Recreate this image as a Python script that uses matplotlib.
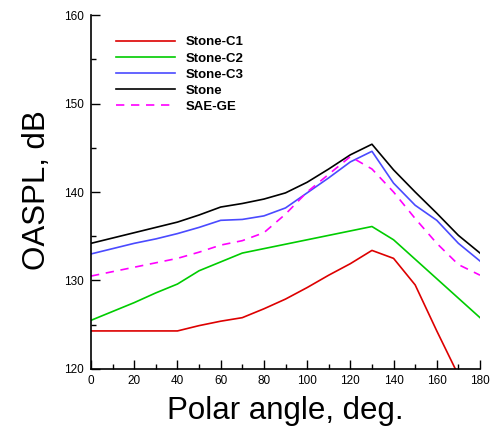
import numpy as np
import matplotlib
matplotlib.use('Agg')
import matplotlib.pyplot as plt
from matplotlib.ticker import MultipleLocator

plt.rcParams['font.family'] = ['Liberation Sans', 'DejaVu Sans']

# 각도 (deg)
angle = [0, 10, 20, 30, 40, 50, 60, 70, 80, 90, 100, 110, 120, 130, 140, 150, 160, 170, 180]

stone_c1 = [124.3, 124.3, 124.3, 124.3, 124.3, 124.9, 125.4, 125.8, 126.8, 127.9, 129.2, 130.6,
            131.9, 133.4, 132.5, 129.5, 124.3, 119.3, 114.0]
stone_c2 = [125.5, 126.5, 127.5, 128.6, 129.6, 131.1, 132.1, 133.1, 133.6, 134.1, 134.6, 135.1,
            135.6, 136.1, 134.6, 132.4, 130.2, 128.0, 125.8]
stone_c3 = [133.0, 133.6, 134.2, 134.7, 135.3, 136.0, 136.8, 136.9, 137.3, 138.2, 139.9, 141.6,
            143.4, 144.6, 141.0, 138.5, 136.8, 134.2, 132.2]
stone = [134.2, 134.8, 135.4, 136.0, 136.6, 137.4, 138.3, 138.7, 139.2, 139.9, 141.1, 142.6,
         144.2, 145.4, 142.5, 140.0, 137.6, 135.1, 133.1]
sae_ge = [130.5, 131.0, 131.5, 132.0, 132.5, 133.2, 134.0, 134.5, 135.4, 137.5, 140.0, 142.0,
          144.0, 142.6, 140.0, 137.0, 134.2, 131.8, 130.6]

fig = plt.figure(figsize=(4.92, 4.34), dpi=100)
ax = fig.add_axes([0.185, 0.1498, 0.7906, 0.8156])

ax.plot(angle, stone_c1, color='#dd0000', lw=1.2, label='Stone-C1')
ax.plot(angle, stone_c2, color='#00cc00', lw=1.2, label='Stone-C2')
ax.plot(angle, stone_c3, color='#4a4aff', lw=1.2, label='Stone-C3')
ax.plot(angle, stone, color='black', lw=1.2, label='Stone')
ax.plot(angle, sae_ge, color='#ff00ff', lw=1.2, ls=(0, (5, 4)), label='SAE-GE')

ax.set_xlim(0, 180)
ax.set_ylim(120, 160)
ax.xaxis.set_major_locator(MultipleLocator(20))
ax.xaxis.set_minor_locator(MultipleLocator(10))
ax.yaxis.set_major_locator(MultipleLocator(10))
ax.yaxis.set_minor_locator(MultipleLocator(5))

ax.spines['top'].set_visible(False)
ax.spines['right'].set_visible(False)
ax.spines['left'].set_linewidth(1.2)
ax.spines['bottom'].set_linewidth(1.2)
ax.tick_params(which='both', direction='in', width=1.0, labelsize=8.5)
ax.tick_params(which='major', length=6.5)
ax.tick_params(which='minor', length=3.5)
ax.tick_params(axis='y', pad=5)
ax.tick_params(axis='x', pad=4)

ax.set_xlabel('Polar angle, deg.', fontsize=22.5, va='top')
ax.xaxis.set_label_coords(0.5, -0.075)
ax.set_ylabel('OASPL, dB', fontsize=22.5)
ax.yaxis.set_label_coords(-0.10, 0.505)

leg = ax.legend(loc='upper left', bbox_to_anchor=(0.064, 0.94), frameon=False,
                borderpad=0, borderaxespad=0, handlelength=4.5, handletextpad=0.8,
                labelspacing=0.29, prop={'size': 9.5, 'weight': 'bold'})

fig.savefig('out.png', dpi=100)
